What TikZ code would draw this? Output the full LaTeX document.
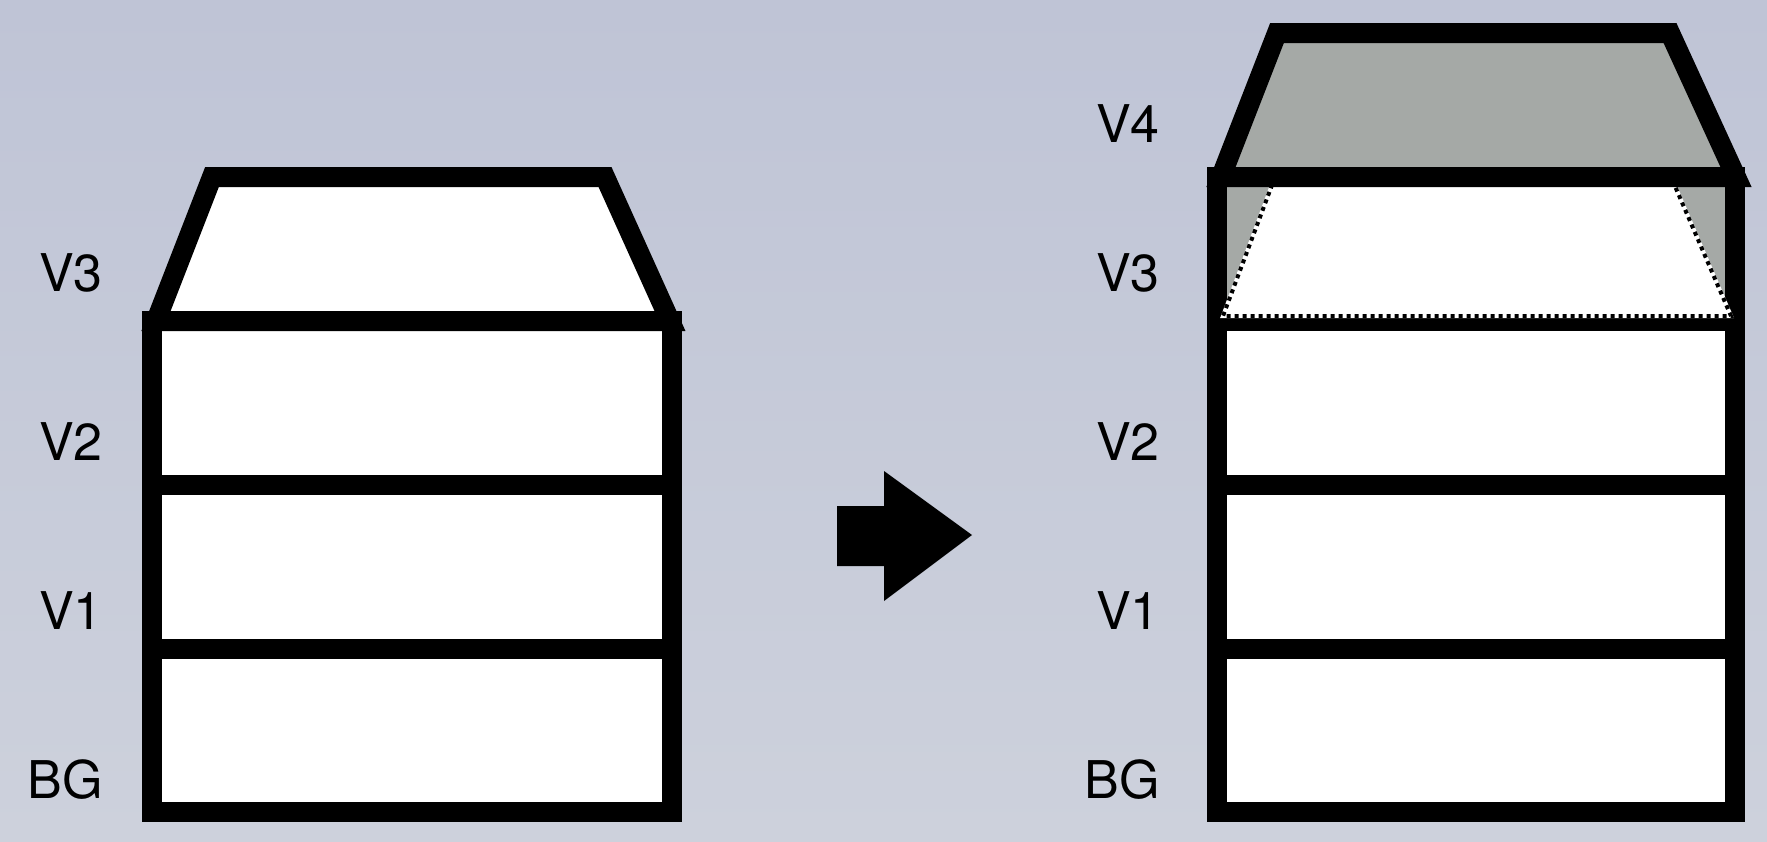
\documentclass[tikz,border=0pt]{standalone}
\usepackage{fontspec}
\setmainfont{TeX Gyre Heros}
\definecolor{bgtop}{RGB}{191,196,214}
\definecolor{bgbot}{RGB}{205,209,220}
\definecolor{layergray}{RGB}{165,169,166}
\tikzset{
  frame/.style={draw=black, line width=20pt, line join=miter, line cap=rect},
  hline/.style={draw=black, line width=20pt},
  lbl/.style={anchor=east, inner sep=0pt, font=\fontsize{52}{60}\selectfont},
}
\begin{document}
\begin{tikzpicture}[x=1pt, y=-1pt]
% background
\begin{scope}[y=1pt]
  \shade[top color=bgtop, bottom color=bgbot] (0,-841) rectangle (1767,0);
\end{scope}
\useasboundingbox (0,0) rectangle (1767,841);

% ---------- left stack ----------
\fill[white] (152,321) rectangle (672,812);
\draw[hline] (152,485) -- (672,485);
\draw[hline] (152,649) -- (672,649);
\draw[frame] (152,321) rectangle (672,812);
\filldraw[frame, fill=white] (156,321) -- (212,177) -- (605,177) -- (670,321) -- cycle;

\node[lbl] (l3) at (103,273) {V3};
\node[lbl] (l2) at (103,442) {V2};
\node[lbl] (l1) at (103,611) {V1};
\node[lbl] (lbg) at (103,780) {BG};

% ---------- arrow ----------
\fill[black] (837,506) -- (884,506) -- (884,471) -- (972,535) -- (884,601) -- (884,566) -- (837,566) -- cycle;

% ---------- right stack ----------
\fill[white] (1217,177) rectangle (1735,812);
\fill[layergray] (1217,177) rectangle (1735,321);
\draw[hline] (1217,321) -- (1735,321);
\draw[hline] (1217,485) -- (1735,485);
\draw[hline] (1217,649) -- (1735,649);
\draw[frame] (1217,177) rectangle (1735,812);
% old V3 shape, outlined dotted
\fill[white] (1223,316) -- (1275,177) -- (1671,177) -- (1731,316) -- cycle;
\draw[white, line width=4pt] (1275,177) -- (1223,316) -- (1731,316) -- (1671,177);
\draw[black, line width=4pt, dash pattern=on 4pt off 4pt] (1275,177) -- (1223,316) -- (1731,316) -- (1671,177);
% new V4
\filldraw[frame, fill=layergray] (1221,177) -- (1277,33) -- (1670,33) -- (1736,177) -- cycle;

\node[lbl] (r4) at (1160,124) {V4};
\node[lbl] (r3) at (1160,273) {V3};
\node[lbl] (r2) at (1160,442) {V2};
\node[lbl] (r1) at (1160,611) {V1};
\node[lbl] (rbg) at (1160,780) {BG};
\end{tikzpicture}
\end{document}
